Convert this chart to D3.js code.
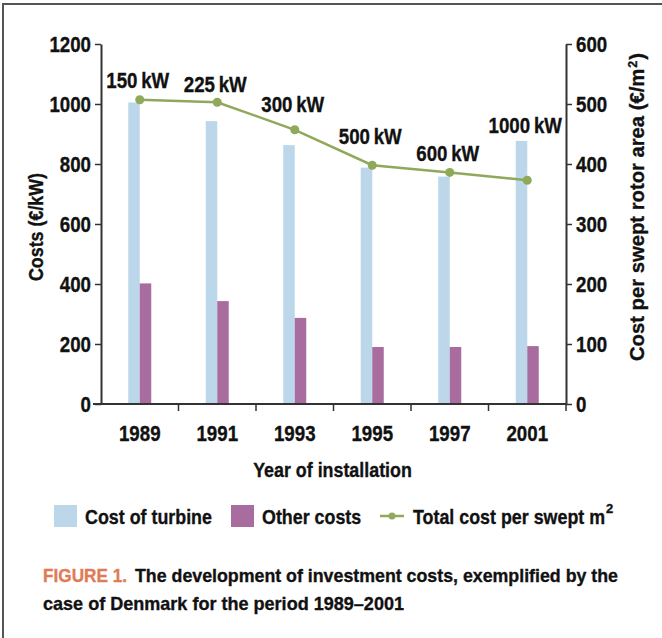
<!DOCTYPE html>
<html>
<head>
<meta charset="utf-8">
<script src="https://cdn.jsdelivr.net/npm/d3@7"></script>
<style>
  body { margin: 0; background: #fff; }
  text { font-family: "Liberation Sans", Arial, sans-serif; font-weight: bold; fill: #111; stroke: #111; stroke-width: 0.35px; }
</style>
</head>
<body>
<div id="chart"></div>
<script>
// data
var years = ["1989", "1991", "1993", "1995", "1997", "2001"];
var ratings = ["150\u2009kW", "225\u2009kW", "300\u2009kW", "500\u2009kW", "600\u2009kW", "1000\u2009kW"];
var turbineCost = [1005, 943, 863, 788, 758, 877];
var otherCost = [402, 343, 287, 190, 190, 193];
var sweptCost = [507, 503, 457, 398, 386, 373];
var leftTicks = [0, 200, 400, 600, 800, 1000, 1200];
var rightTicks = [0, 100, 200, 300, 400, 500, 600];

var svgWidth = 662;
var svgHeight = 638;

var margin = { top: 44, right: 96, bottom: 234, left: 101 };
var width = svgWidth - margin.left - margin.right;
var height = svgHeight - margin.top - margin.bottom;

var colors = { turbine: "#bcd7ea", other: "#a96c9f", line: "#8fa85a", axis: "#333", accent: "#e07c55" };
var squeeze = 0.85; // the original uses a condensed face

var svg = d3.select("#chart")
  .append("svg")
  .attr("width", svgWidth)
  .attr("height", svgHeight);

svg.append("rect").attr("width", svgWidth).attr("height", svgHeight).attr("fill", "#fff");

// open frame (top + left)
svg.append("path")
  .attr("d", `M3,${svgHeight} V4 H${svgWidth}`)
  .attr("fill", "none")
  .attr("stroke", "#555")
  .attr("stroke-width", 2);

var chartGroup = svg.append("g")
  .attr("transform", `translate(${margin.left}, ${margin.top})`);

// scales
var xScale = d3.scaleBand().domain(years).range([0, width]);
var yLeft = d3.scaleLinear().domain([0, 1200]).range([height, 0]);
var yRight = d3.scaleLinear().domain([0, 600]).range([height, 0]);
var barW = 11.5;
var mid = d => xScale(d) + xScale.bandwidth() / 2;

// bars
chartGroup.selectAll(".turbine")
  .data(turbineCost)
  .enter()
  .append("rect")
  .attr("x", (d, i) => mid(years[i]) - barW)
  .attr("y", d => yLeft(d))
  .attr("width", barW)
  .attr("height", d => height - yLeft(d))
  .attr("fill", colors.turbine);

chartGroup.selectAll(".other")
  .data(otherCost)
  .enter()
  .append("rect")
  .attr("x", (d, i) => mid(years[i]))
  .attr("y", d => yLeft(d))
  .attr("width", barW)
  .attr("height", d => height - yLeft(d))
  .attr("fill", colors.other);

// line
var line = d3.line()
  .x((d, i) => mid(years[i]))
  .y(d => yRight(d));

chartGroup.append("path")
  .datum(sweptCost)
  .attr("d", line)
  .attr("fill", "none")
  .attr("stroke", colors.line)
  .attr("stroke-width", 2.5);

chartGroup.selectAll(".pt")
  .data(sweptCost)
  .enter()
  .append("circle")
  .attr("cx", (d, i) => mid(years[i]))
  .attr("cy", d => yRight(d))
  .attr("r", 4.5)
  .attr("fill", colors.line);

// rating labels, lifted above the point (pixels)
var labelLift = [12, 10, 18, 21, 11, 47];
chartGroup.selectAll(".rating")
  .data(ratings)
  .enter()
  .append("text")
  .attr("x", (d, i) => mid(years[i]) - 2)
  .attr("y", (d, i) => yRight(sweptCost[i]) - labelLift[i])
  .attr("text-anchor", "middle")
  .style("font-size", "22px")
  .text(d => d);

// axes
function styleAxis(g) {
  g.select(".domain").attr("stroke", colors.axis).attr("stroke-width", 2);
  g.selectAll(".tick line").attr("stroke", colors.axis).attr("stroke-width", 1.5);
  g.selectAll(".tick text").style("font-size", "22px").attr("fill", "#111");
}

var leftAxis = d3.axisLeft(yLeft).tickValues(leftTicks).tickFormat(d3.format("d"))
  .tickSize(6).tickPadding(4).tickSizeOuter(0);
chartGroup.append("g").call(leftAxis).call(styleAxis);

var rightAxis = d3.axisRight(yRight).tickValues(rightTicks).tickFormat(d3.format("d"))
  .tickSize(6).tickPadding(4).tickSizeOuter(0);
chartGroup.append("g").attr("transform", `translate(${width}, 0)`).call(rightAxis).call(styleAxis);

// x axis: ticks at band boundaries, labels at band centres
var xAxisG = chartGroup.append("g").attr("transform", `translate(0, ${height})`);
xAxisG.append("line")
  .attr("x1", -8).attr("x2", width)
  .attr("stroke", colors.axis).attr("stroke-width", 2);
xAxisG.selectAll(".xt")
  .data(years)
  .enter()
  .append("line")
  .attr("x1", d => xScale(d) + xScale.bandwidth())
  .attr("x2", d => xScale(d) + xScale.bandwidth())
  .attr("y1", 0).attr("y2", 7)
  .attr("stroke", colors.axis).attr("stroke-width", 1.5);
xAxisG.selectAll(".xl")
  .data(years)
  .enter()
  .append("text")
  .attr("x", d => mid(d))
  .attr("y", 37)
  .attr("text-anchor", "middle")
  .style("font-size", "22px")
  .text(d => d);

// axis titles
chartGroup.append("text")
  .attr("x", width / 2 - 1)
  .attr("y", height + 73)
  .attr("text-anchor", "middle")
  .style("font-size", "21px")
  .text("Year of installation");

chartGroup.append("text")
  .attr("transform", `translate(-58, ${height / 2 + 3}) rotate(-90)`)
  .attr("text-anchor", "middle")
  .style("font-size", "21px")
  .text("Costs (\u20ac/kW)");

var rTitle = chartGroup.append("text")
  .attr("class", "fixed")
  .attr("transform", `translate(${width + 78}, ${height / 2 - 17}) rotate(-90)`)
  .attr("text-anchor", "middle")
  .attr("textLength", 308)
  .attr("lengthAdjust", "spacingAndGlyphs")
  .style("font-size", "21px");
rTitle.append("tspan").text("Cost per swept rotor area (\u20ac/m");
rTitle.append("tspan").attr("baseline-shift", "super").attr("dx", 1).style("font-size", "13px").text("2");
rTitle.append("tspan").attr("dx", 1).text(")");

// legend
var legend = svg.append("g").attr("transform", "translate(0, 516)");
legend.append("rect").attr("x", 54).attr("y", -11).attr("width", 23).attr("height", 22).attr("fill", colors.turbine);
legend.append("text").attr("x", 85).attr("y", 8).style("font-size", "21px").text("Cost of turbine");
legend.append("rect").attr("x", 231).attr("y", -11).attr("width", 23).attr("height", 22).attr("fill", colors.other);
legend.append("text").attr("x", 262).attr("y", 8).style("font-size", "21px").text("Other costs");
legend.append("line").attr("x1", 380).attr("x2", 404).attr("y1", 0).attr("y2", 0)
  .attr("stroke", colors.line).attr("stroke-width", 2.5);
legend.append("circle").attr("cx", 392).attr("cy", 0).attr("r", 3.5).attr("fill", colors.line);
var lt = legend.append("text").attr("x", 413).attr("y", 8).style("font-size", "21px")
  .text("Total cost per swept m");

// condense every text to mimic the narrow typeface
svg.selectAll("text:not(.fixed)").each(function() {
  var len = this.getComputedTextLength();
  d3.select(this).attr("textLength", len * squeeze).attr("lengthAdjust", "spacingAndGlyphs");
});

// superscript of the legend unit, placed after the condensed text
legend.append("text").attr("x", 606).attr("y", -3).style("font-size", "13px").text("2");

// caption, fitted to the original line widths
svg.append("text").attr("x", 43).attr("y", 582).style("font-size", "19px")
  .attr("textLength", 84).attr("lengthAdjust", "spacingAndGlyphs")
  .style("fill", colors.accent).style("stroke", colors.accent)
  .text("FIGURE 1.");
svg.append("text").attr("x", 135).attr("y", 582).style("font-size", "19px")
  .attr("textLength", 483).attr("lengthAdjust", "spacingAndGlyphs")
  .text("The development of investment costs, exemplified by the");
svg.append("text").attr("x", 43).attr("y", 610).style("font-size", "19px")
  .attr("textLength", 361).attr("lengthAdjust", "spacingAndGlyphs")
  .text("case of Denmark for the period 1989\u20132001");
</script>
</body>
</html>
